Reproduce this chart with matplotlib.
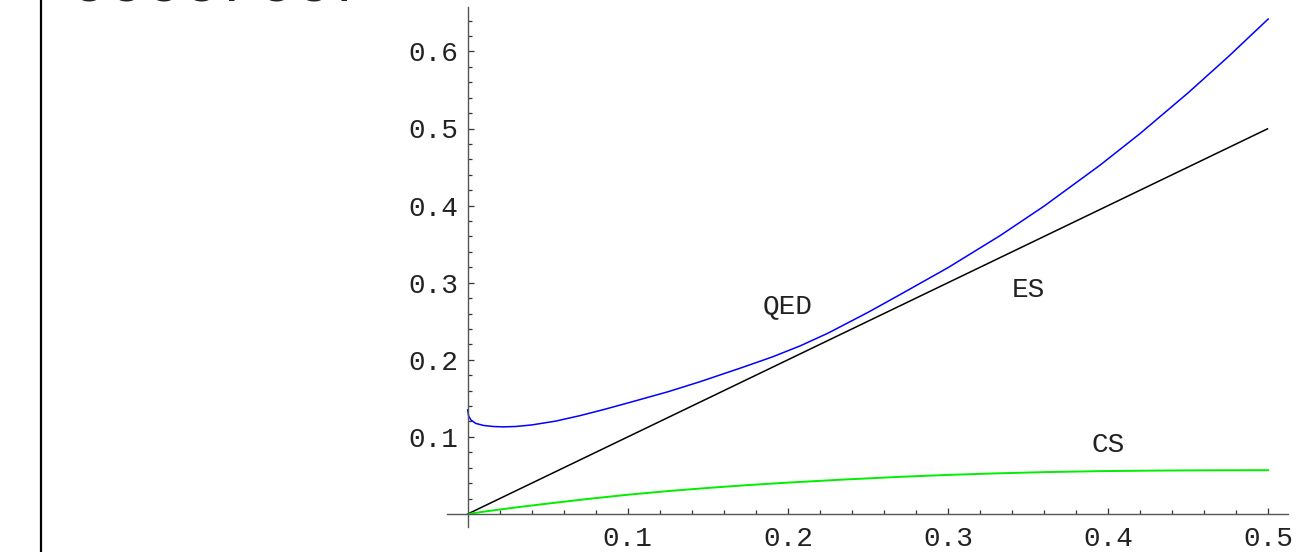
import matplotlib
matplotlib.use("Agg")
import matplotlib.pyplot as plt
from matplotlib.lines import Line2D
import numpy as np

# ---- data ----
es_x = [0.0, 0.5]
es_y = [0.0, 0.5]

qed_x = [0.0, 0.0006, 0.002, 0.005, 0.01, 0.016, 0.022, 0.03, 0.04, 0.055, 0.07,
         0.085, 0.1, 0.125, 0.145, 0.17, 0.19, 0.2076, 0.225, 0.25, 0.27, 0.3,
         0.3325, 0.36, 0.395, 0.42, 0.45, 0.475, 0.5]
qed_y = [0.135, 0.127, 0.122, 0.1175, 0.1148, 0.1135, 0.113, 0.1135, 0.1155, 0.1205, 0.1275,
         0.1355, 0.144, 0.1585, 0.1715, 0.189, 0.2035, 0.218, 0.2345, 0.2615, 0.2845, 0.3195,
         0.361, 0.3993, 0.4525, 0.4935, 0.5463, 0.593, 0.642]

cs_x = [0.0, 0.01, 0.02, 0.035, 0.05, 0.075, 0.1, 0.125, 0.15, 0.175, 0.2, 0.235,
        0.27, 0.3, 0.33, 0.36, 0.395, 0.43, 0.465, 0.5]
cs_y = [0.0, 0.003, 0.0058, 0.0098, 0.0135, 0.0195, 0.025, 0.0297, 0.0338, 0.0375, 0.0407,
        0.0447, 0.0482, 0.0507, 0.0527, 0.0543, 0.0556, 0.0563, 0.0567, 0.0568]

labels = ["QED", "ES", "CS"]
label_pos = [(0.2, 0.27), (0.35, 0.29), (0.4, 0.09)]

xticks_major = [0.1, 0.2, 0.3, 0.4, 0.5]
yticks_major = [0.1, 0.2, 0.3, 0.4, 0.5, 0.6]

# ---- figure ----
W, H, DPI = 1296, 552, 100
fig = plt.figure(figsize=(W / DPI, H / DPI), dpi=DPI)
plt.rcParams['font.family'] = ['Liberation Mono', 'DejaVu Sans Mono']

# axes placement in pixels
left_px, right_px = 446.7, 1288.0
top_px, bot_px = 7.0, 526.7
ax = fig.add_axes([left_px / W, 1 - bot_px / H, (right_px - left_px) / W, (bot_px - top_px) / H])

x0_px, xs = 467.7, 1601.0
y0_px, ys = 514.0, 771.0
ax.set_xlim((left_px - x0_px) / xs, (right_px - x0_px) / xs)
ax.set_ylim((y0_px - bot_px) / ys, (y0_px - top_px) / ys)

ax.plot(es_x, es_y, color='black', lw=1.1, solid_capstyle='butt')
ax.plot(qed_x, qed_y, color='#0000ff', lw=1.1, solid_joinstyle='round')
ax.plot(cs_x, cs_y, color='#00ee00', lw=1.4, solid_joinstyle='round')

for t, (lx, ly) in zip(labels, label_pos):
    ax.text(lx, ly, t, ha='center', va='center', fontsize=20, color='#222222')

for s in ['top', 'right']:
    ax.spines[s].set_visible(False)
ax.spines['left'].set_position(('data', 0))
ax.spines['bottom'].set_position(('data', 0))
for s in ['left', 'bottom']:
    ax.spines[s].set_color('#555555')
    ax.spines[s].set_linewidth(1.0)

ax.set_xticks(xticks_major)
ax.set_xticklabels([f"{v:.1f}" for v in xticks_major])
ax.set_yticks(yticks_major)
ax.set_yticklabels([f"{v:.1f}" for v in yticks_major])
ax.set_xticks(np.arange(0.02, 0.51, 0.02), minor=True)
ax.set_yticks(np.arange(0.02, 0.65, 0.02), minor=True)
ax.tick_params(which='major', direction='in', length=4.5, width=0.9, color='#333333',
               labelsize=20, labelcolor='#222222')
ax.tick_params(which='minor', direction='in', length=2.6, width=0.9, color='#333333')
ax.tick_params(axis='y', which='major', pad=6.5)
ax.tick_params(axis='x', which='major', pad=8.5)
ax.patch.set_visible(False)

# left border line
fig.add_artist(Line2D([40.7 / W, 40.7 / W], [0, 1], transform=fig.transFigure,
                      color='black', lw=1.6))
# clipped text remnant at the top edge (as in the reference)
fig.text(70 / W, 1 - 1.2 / H, "ccccrccr", fontsize=45, va='baseline', ha='left',
         color='#222222')

fig.savefig("out.png", dpi=DPI, facecolor='white')
